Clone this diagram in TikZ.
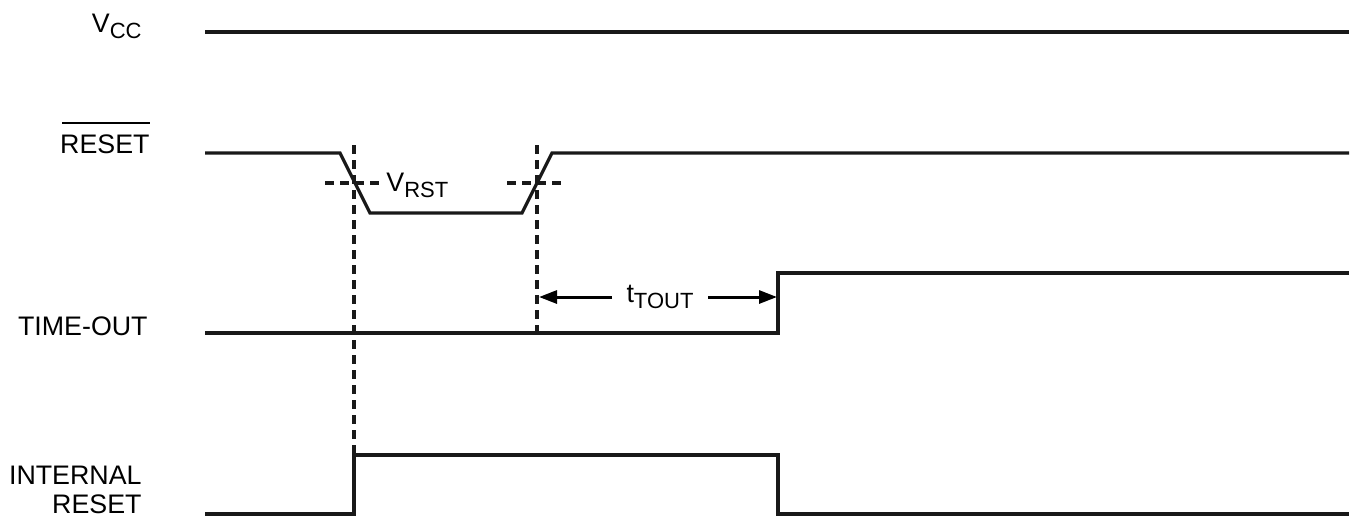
\documentclass[tikz,border=0pt]{standalone}
\usepackage{fontspec}
\setmainfont{Liberation Sans}
\usetikzlibrary{arrows.meta}
\newcommand{\sigsub}[1]{\raisebox{-0.25em}{\fontsize{11}{12}\selectfont #1}}
\begin{document}
\begin{tikzpicture}[x=0.5pt,y=-0.5pt,
  sig/.style={line width=1.6pt,line join=miter,color=black!90},
  guide/.style={line width=1.7pt,dash pattern=on 4.5pt off 3pt,color=black!90},
  lbl/.style={anchor=base east,inner sep=0pt,font=\fontsize{13.4}{15}\selectfont},
  dimarrow/.style={line width=1.5pt,-{Triangle[length=9pt,width=6.5pt]}}]
\useasboundingbox (0,0) rectangle (1354,516);
% labels
\node[lbl] (lvcc) at (142,32) {V\sigsub{CC}};
\node[lbl] (lreset) at (150,153) {RESET};
\draw[line width=1.2pt] (62,123) -- (150,123);
\node[lbl] (ltime) at (148,335) {TIME-OUT};
\node[lbl] (lint1) at (142,484) {INTERNAL};
\node[lbl] (lint2) at (142,513) {RESET};
% VCC
\draw[sig] (205,32) -- (1349,32);
% RESET
\coordinate (rf1) at (340,153);
\coordinate (rf2) at (370,213);
\coordinate (rr1) at (522,213);
\coordinate (rr2) at (552,153);
\draw[sig] (205,153) -- (rf1) -- (rf2) -- (rr1) -- (rr2) -- (1349,153);
% TIME-OUT
\coordinate (tup) at (778,333);
\draw[sig] (205,333) -- (tup) -- (778,273) -- (1349,273);
% INTERNAL RESET
\coordinate (iup) at (354,514);
\coordinate (itop) at (354,455);
\coordinate (idn) at (778,455);
\draw[sig] (205,514) -- (iup) -- (itop) -- (idn) -- (778,514) -- (1349,514);
% guides
\coordinate (g1top) at (354,145);
\coordinate (g2top) at (537,145);
\coordinate (g2bot) at (537,333);
\draw[guide] (g1top) -- (itop);
\draw[guide] (g2top) -- (g2bot);
\coordinate (h1a) at (325,183);
\coordinate (h1b) at (385,183);
\coordinate (h2a) at (507,183);
\coordinate (h2b) at (567,183);
\draw[guide] (h1a) -- (h1b);
\draw[guide] (h2a) -- (h2b);
\node[anchor=base west,inner sep=0pt,font=\fontsize{13.4}{15}\selectfont] (vrst) at (386,191) {V\sigsub{RST}};
% t_TOUT
\node[inner sep=0pt,font=\fontsize{13.4}{15}\selectfont] (ttout) at (660,297) {t\sigsub{TOUT}};
\coordinate (al) at (539,297);
\coordinate (ar) at (777,297);
\coordinate (als) at (612,297);
\coordinate (ars) at (708,297);
\draw[dimarrow] (als) -- (al);
\draw[dimarrow] (ars) -- (ar);
\end{tikzpicture}
\end{document}
